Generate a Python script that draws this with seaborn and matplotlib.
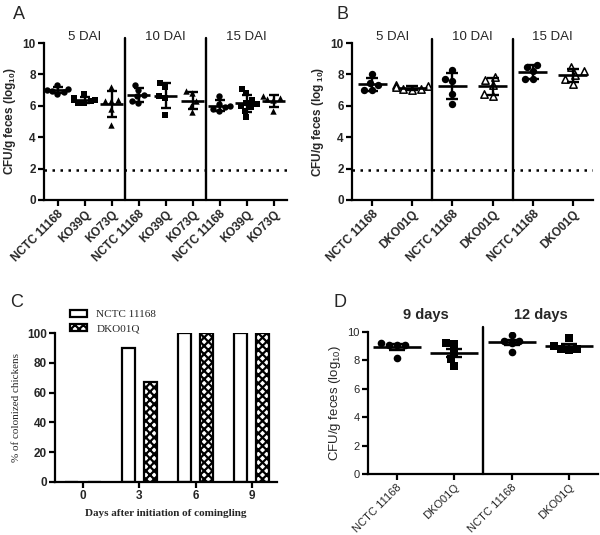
import numpy as np
import pandas as pd
import matplotlib
matplotlib.use("Agg")
import matplotlib.pyplot as plt
from matplotlib.patches import Patch
import seaborn as sns

sns.set_theme(style="ticks")
plt.rcParams['font.family'] = ['Liberation Sans', 'DejaVu Sans']
plt.rcParams['mathtext.default'] = 'regular'
plt.rcParams['hatch.linewidth'] = 1.6

# ---------------- Panel A data ----------------
a_days = ["5 DAI", "10 DAI", "15 DAI"]
a_strains = ["NCTC 11168", "KO39Q", "KO73Q"]
a_5_nctc = [7.3, 7.1, 7.0, 6.95, 6.85, 6.75]
a_5_ko39 = [6.75, 6.5, 6.4, 6.35, 6.3, 6.2, 6.15]
a_5_ko73 = [7.2, 6.4, 6.3, 6.3, 5.8, 4.75]
a_10_nctc = [7.35, 7.0, 6.7, 6.6, 6.3, 6.2]
a_10_ko39 = [7.45, 7.2, 6.6, 6.5, 5.4]
a_10_ko73 = [6.95, 6.8, 6.3, 6.0, 5.6]
a_15_nctc = [6.6, 6.1, 6.0, 5.9, 5.8, 5.65]
a_15_ko39 = [7.1, 6.8, 6.4, 6.2, 6.1, 6.0, 5.9, 5.7, 5.3]
a_15_ko73 = [6.6, 6.5, 6.45, 6.35, 5.65]

# ---------------- Panel B data ----------------
b_days = ["5 DAI", "10 DAI", "15 DAI"]
b_strains = ["NCTC 11168", "DKO01Q"]
b_5_nctc = [8.05, 7.45, 7.3, 7.0, 7.0]
b_5_dko = [7.35, 7.25, 7.2, 7.1, 7.05, 7.0]
b_10_nctc = [8.25, 7.7, 7.55, 6.75, 6.1]
b_10_dko = [7.85, 7.65, 7.3, 6.75, 6.6]
b_15_nctc = [8.6, 8.5, 8.2, 7.7, 7.7]
b_15_dko = [8.45, 8.2, 7.95, 7.7, 7.4]

detection_limit = 1.9

# ---------------- Panel C data ----------------
c_days = [0, 3, 6, 9]
c_nctc = [0, 90, 100, 100]
c_dko = [0, 67, 100, 100]

# ---------------- Panel D data ----------------
d_times = ["9 days", "12 days"]
d_strains = ["NCTC 11168", "DKO01Q"]
d_9_nctc = [9.25, 9.1, 9.05, 9.1, 8.2]
d_9_dko = [9.2, 9.15, 8.6, 8.1, 7.6]
d_12_nctc = [9.8, 9.4, 9.35, 9.2, 8.6]
d_12_dko = [9.55, 9.0, 8.8, 8.8, 8.75]


def long_df(groups, strains, arrays):
    rows = []
    keys = []
    k = 0
    for g in groups:
        for s in strains:
            key = f"{g}|{s}"
            keys.append(key)
            for v in arrays[k]:
                rows.append({"key": key, "group": g, "strain": s, "value": v})
            k += 1
    return pd.DataFrame(rows), keys


dfA, keysA = long_df(a_days, a_strains,
                     [a_5_nctc, a_5_ko39, a_5_ko73, a_10_nctc, a_10_ko39, a_10_ko73,
                      a_15_nctc, a_15_ko39, a_15_ko73])
dfB, keysB = long_df(b_days, b_strains,
                     [b_5_nctc, b_5_dko, b_10_nctc, b_10_dko, b_15_nctc, b_15_dko])
dfD, keysD = long_df(d_times, d_strains,
                     [d_9_nctc, d_9_dko, d_12_nctc, d_12_dko])
dfC = pd.DataFrame({"day": c_days * 2,
                    "pct": c_nctc + c_dko,
                    "strain": ["NCTC 11168"] * len(c_days) + ["DKO01Q"] * len(c_days)})

fig = plt.figure(figsize=(6.0, 5.35), dpi=100)
W, H = 600.0, 535.0


def add_ax(l, r, t, b):
    return fig.add_axes([l / W, 1 - b / H, (r - l) / W, (b - t) / H])


axA = add_ax(44, 287, 43, 200)
axB = add_ax(352, 593, 43, 200)
axC = add_ax(55, 277, 333, 482)
axD = add_ax(368, 598, 332, 474)


def style_axis(ax, bold=True, fs=8.5):
    sns.despine(ax=ax)
    for sp in ("left", "bottom"):
        ax.spines[sp].set_linewidth(1.6)
        ax.spines[sp].set_color("black")
    ax.tick_params(axis="both", width=1.6, length=4, color="black", direction="out",
                   labelsize=fs, pad=2)
    for lab in ax.get_yticklabels():
        lab.set_fontweight("bold" if bold else "normal")


def scatter_panel(ax, df, keys, strains, markers, faces, error, half_mean, capsize,
                  group_labels, label_y, label_kw, sep_top, ylabel, ylabel_kw,
                  xtick_kw, dotted=True, msize=5.2):
    for s, m, fc in zip(strains, markers, faces):
        sub = df[df.strain == s]
        if fc == "white":
            sns.swarmplot(data=sub, x="key", y="value", order=keys, marker=m, color="white",
                          edgecolor="black", linewidth=1.1, size=msize, ax=ax, zorder=3)
        else:
            sns.swarmplot(data=sub, x="key", y="value", order=keys, marker=m, color="black",
                          linewidth=0, size=msize, ax=ax, zorder=3)
    stats = df.groupby("key")["value"].agg(["mean", "std", "count"]).reindex(keys)
    pos = np.arange(len(keys))
    if error == "sd":
        err = stats["std"].values
    else:
        err = stats["std"].values / np.sqrt(stats["count"].values)
    ax.errorbar(pos, stats["mean"].values, yerr=err, fmt="none", ecolor="black",
                elinewidth=1.7, capsize=capsize, capthick=1.7, zorder=4)
    ax.hlines(stats["mean"].values, pos - half_mean, pos + half_mean, colors="black",
              linewidth=1.9, zorder=4)
    ngroups = len(group_labels)
    per = len(keys) // ngroups
    for i in range(1, ngroups):
        xs = i * per - 0.5
        ax.plot([xs, xs], [0, sep_top], color="black", lw=1.7, clip_on=False, zorder=5)
    for i, g in enumerate(group_labels):
        xc = i * per + (per - 1) / 2
        ax.text(xc, label_y, g, ha="center", va="bottom", **label_kw)
    if dotted:
        ax.axhline(detection_limit, color="black", ls=(0, (1, 2.2)), lw=1.8, zorder=2)
    ax.set_xlim(-0.5, len(keys) - 0.5)
    ax.set_ylim(0, 10)
    ax.set_yticks([0, 2, 4, 6, 8, 10])
    ax.set_xticks(pos)
    ax.set_xticklabels([k.split("|")[1] for k in keys], rotation=45, ha="right",
                       rotation_mode="anchor", **xtick_kw)
    ax.set_xlabel("")
    ax.set_ylabel(ylabel, labelpad=3, **ylabel_kw)


ylab = "CFU/g feces (log$_{10}$)"

# Panel A
scatter_panel(axA, dfA, keysA, a_strains, ["o", "s", "^"], ["black", "black", "black"],
              "sd", 0.42, 3.5, a_days, 10.0, dict(fontsize=9.5), 10.3, ylab,
              dict(fontsize=8.5, fontweight="bold"), dict(fontsize=8.5, fontweight="bold"),
              msize=4.6)
style_axis(axA)

# Panel B
scatter_panel(axB, dfB, keysB, b_strains, ["o", "^"], ["black", "white"],
              "sd", 0.36, 4.5, b_days, 10.0, dict(fontsize=9.5), 10.25,
              "CFU/g feces (log$_{\\ 10}$)", dict(fontsize=8.5, fontweight="bold"),
              dict(fontsize=8.5, fontweight="bold"), msize=5.3)
style_axis(axB)

# Panel D
scatter_panel(axD, dfD, keysD, d_strains, ["o", "s"], ["black", "black"],
              "sem", 0.42, 5.5, d_times, 10.7, dict(fontsize=10.5, fontweight="bold"), 10.35,
              ylab, dict(fontsize=9.5), dict(fontsize=7.8), dotted=False, msize=5.5)
style_axis(axD, bold=False, fs=8)

# Panel C
sns.barplot(data=dfC, x="day", y="pct", hue="strain", hue_order=["NCTC 11168", "DKO01Q"],
            palette=["white", "white"], edgecolor="black", linewidth=1.6, width=0.8, gap=0.42,
            errorbar=None, ax=axC, legend=False)
for bar in axC.containers[1]:
    bar.set_hatch("xxxx")
axC.set_ylim(0, 100)
axC.set_yticks([0, 20, 40, 60, 80, 100])
axC.set_xlim(-0.5, 3.45)
style_axis(axC)
for lab in axC.get_xticklabels():
    lab.set_fontweight("bold")
axC.set_ylabel("% of colonized chickens", family=["Liberation Serif"], fontsize=8, labelpad=4)
axC.set_xlabel("Days after initiation of comingling", family=["Liberation Serif"],
               fontsize=8, fontweight="bold", labelpad=5)
handles = [Patch(facecolor="white", edgecolor="black", linewidth=1.6, label="NCTC 11168"),
           Patch(facecolor="white", edgecolor="black", linewidth=1.6, hatch="xxxx",
                 label="DKO01Q")]
fig.legend(handles=handles, loc="upper left", bbox_to_anchor=(64 / W, 1 - 304 / H),
           frameon=False, prop={"family": "Liberation Serif", "size": 8},
           handlelength=1.6, handleheight=0.6, handletextpad=0.8, labelspacing=0.45,
           borderpad=0)

# Panel letters
for letter, x, y in [("A", 13, 19), ("B", 336, 19), ("C", 10, 307), ("D", 333, 307)]:
    fig.text(x / W, 1 - y / H, letter, fontsize=13, ha="left", va="baseline")

fig.savefig("out.png", dpi=100)
